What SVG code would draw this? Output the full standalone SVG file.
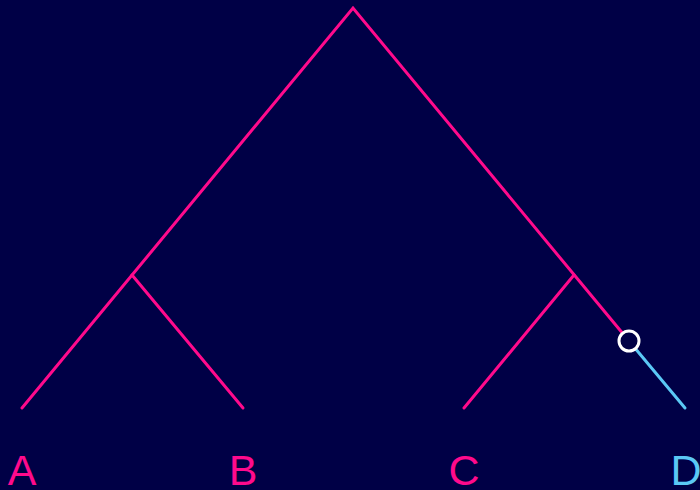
<svg xmlns="http://www.w3.org/2000/svg" width="700" height="490" viewBox="0 0 700 490">
<style>
.br{stroke:#FF0A8C;stroke-width:3;fill:none;stroke-linecap:round}
.bl{stroke:#5BC8F5;stroke-width:3;fill:none;stroke-linecap:round}
.lb{font-family:"Liberation Sans",Arial,sans-serif;font-size:43px;text-anchor:middle}
</style>
<rect width="700" height="490" fill="#000046"/>
<g id="connectors">
<polyline class="br" points="22,408 353,8 629,341"/>
<line class="br" x1="132" y1="275" x2="243" y2="408"/>
<line class="br" x1="574" y1="275" x2="464" y2="408"/>
<line class="bl" x1="629" y1="341" x2="685" y2="408"/>
</g>
<g id="mark"><circle cx="629" cy="341" r="10" fill="#000046" stroke="#FFFFFF" stroke-width="3"/></g>
<g id="A"><text class="lb" x="22" y="485" fill="#FF0A8C">A</text></g>
<g id="B"><text class="lb" x="243" y="485" fill="#FF0A8C">B</text></g>
<g id="C"><text class="lb" x="464" y="485" fill="#FF0A8C">C</text></g>
<g id="D"><text class="lb" x="686" y="485" fill="#5BC8F5">D</text></g>
</svg>
